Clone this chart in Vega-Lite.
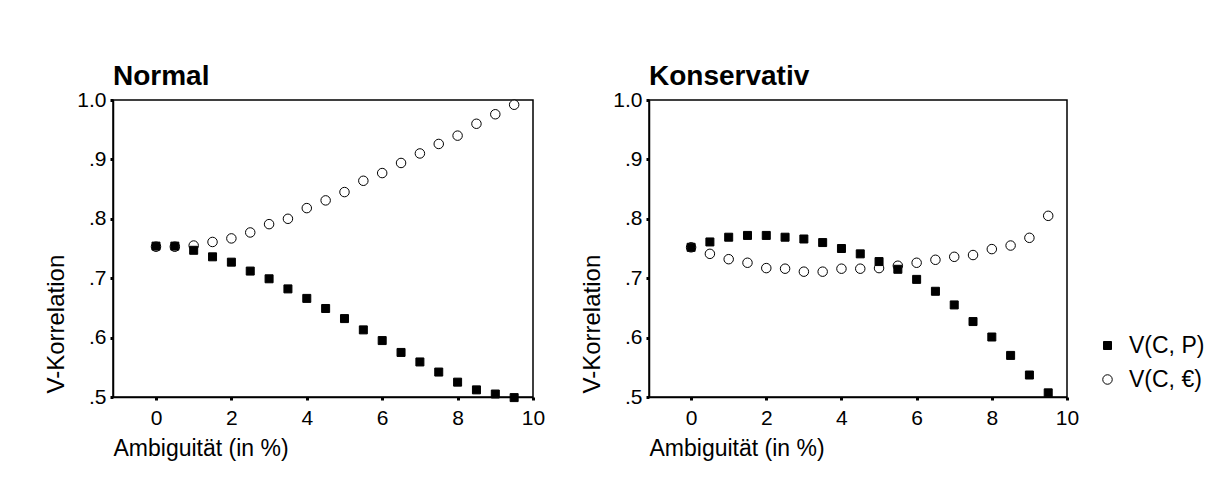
{
  "$schema": "https://vega.github.io/schema/vega-lite/v6.json",
  "background": "white",
  "padding": {"left": 43, "top": 62, "right": 5, "bottom": 5},
  "bounds": "flush",
  "spacing": 116,
  "data": {
    "values": [
      {"p": "Normal", "a": 0, "s": "V(C, €)", "v": 0.753},
      {"p": "Normal", "a": 0.5, "s": "V(C, €)", "v": 0.753},
      {"p": "Normal", "a": 1, "s": "V(C, €)", "v": 0.755},
      {"p": "Normal", "a": 1.5, "s": "V(C, €)", "v": 0.761},
      {"p": "Normal", "a": 2, "s": "V(C, €)", "v": 0.767},
      {"p": "Normal", "a": 2.5, "s": "V(C, €)", "v": 0.777},
      {"p": "Normal", "a": 3, "s": "V(C, €)", "v": 0.791},
      {"p": "Normal", "a": 3.5, "s": "V(C, €)", "v": 0.8},
      {"p": "Normal", "a": 4, "s": "V(C, €)", "v": 0.818},
      {"p": "Normal", "a": 4.5, "s": "V(C, €)", "v": 0.831},
      {"p": "Normal", "a": 5, "s": "V(C, €)", "v": 0.845},
      {"p": "Normal", "a": 5.5, "s": "V(C, €)", "v": 0.864},
      {"p": "Normal", "a": 6, "s": "V(C, €)", "v": 0.877},
      {"p": "Normal", "a": 6.5, "s": "V(C, €)", "v": 0.894},
      {"p": "Normal", "a": 7, "s": "V(C, €)", "v": 0.91},
      {"p": "Normal", "a": 7.5, "s": "V(C, €)", "v": 0.926},
      {"p": "Normal", "a": 8, "s": "V(C, €)", "v": 0.94},
      {"p": "Normal", "a": 8.5, "s": "V(C, €)", "v": 0.96},
      {"p": "Normal", "a": 9, "s": "V(C, €)", "v": 0.976},
      {"p": "Normal", "a": 9.5, "s": "V(C, €)", "v": 0.992},
      {"p": "Normal", "a": 0, "s": "V(C, P)", "v": 0.754},
      {"p": "Normal", "a": 0.5, "s": "V(C, P)", "v": 0.754},
      {"p": "Normal", "a": 1, "s": "V(C, P)", "v": 0.747},
      {"p": "Normal", "a": 1.5, "s": "V(C, P)", "v": 0.736},
      {"p": "Normal", "a": 2, "s": "V(C, P)", "v": 0.727},
      {"p": "Normal", "a": 2.5, "s": "V(C, P)", "v": 0.712},
      {"p": "Normal", "a": 3, "s": "V(C, P)", "v": 0.699},
      {"p": "Normal", "a": 3.5, "s": "V(C, P)", "v": 0.682},
      {"p": "Normal", "a": 4, "s": "V(C, P)", "v": 0.666},
      {"p": "Normal", "a": 4.5, "s": "V(C, P)", "v": 0.649},
      {"p": "Normal", "a": 5, "s": "V(C, P)", "v": 0.632},
      {"p": "Normal", "a": 5.5, "s": "V(C, P)", "v": 0.613},
      {"p": "Normal", "a": 6, "s": "V(C, P)", "v": 0.595},
      {"p": "Normal", "a": 6.5, "s": "V(C, P)", "v": 0.575},
      {"p": "Normal", "a": 7, "s": "V(C, P)", "v": 0.559},
      {"p": "Normal", "a": 7.5, "s": "V(C, P)", "v": 0.542},
      {"p": "Normal", "a": 8, "s": "V(C, P)", "v": 0.525},
      {"p": "Normal", "a": 8.5, "s": "V(C, P)", "v": 0.512},
      {"p": "Normal", "a": 9, "s": "V(C, P)", "v": 0.505},
      {"p": "Normal", "a": 9.5, "s": "V(C, P)", "v": 0.499},
      {"p": "Konservativ", "a": 0, "s": "V(C, €)", "v": 0.752},
      {"p": "Konservativ", "a": 0.5, "s": "V(C, €)", "v": 0.741},
      {"p": "Konservativ", "a": 1, "s": "V(C, €)", "v": 0.732},
      {"p": "Konservativ", "a": 1.5, "s": "V(C, €)", "v": 0.726},
      {"p": "Konservativ", "a": 2, "s": "V(C, €)", "v": 0.717},
      {"p": "Konservativ", "a": 2.5, "s": "V(C, €)", "v": 0.716},
      {"p": "Konservativ", "a": 3, "s": "V(C, €)", "v": 0.711},
      {"p": "Konservativ", "a": 3.5, "s": "V(C, €)", "v": 0.711},
      {"p": "Konservativ", "a": 4, "s": "V(C, €)", "v": 0.716},
      {"p": "Konservativ", "a": 4.5, "s": "V(C, €)", "v": 0.716},
      {"p": "Konservativ", "a": 5, "s": "V(C, €)", "v": 0.717},
      {"p": "Konservativ", "a": 5.5, "s": "V(C, €)", "v": 0.721},
      {"p": "Konservativ", "a": 6, "s": "V(C, €)", "v": 0.726},
      {"p": "Konservativ", "a": 6.5, "s": "V(C, €)", "v": 0.731},
      {"p": "Konservativ", "a": 7, "s": "V(C, €)", "v": 0.736},
      {"p": "Konservativ", "a": 7.5, "s": "V(C, €)", "v": 0.739},
      {"p": "Konservativ", "a": 8, "s": "V(C, €)", "v": 0.749},
      {"p": "Konservativ", "a": 8.5, "s": "V(C, €)", "v": 0.755},
      {"p": "Konservativ", "a": 9, "s": "V(C, €)", "v": 0.768},
      {"p": "Konservativ", "a": 9.5, "s": "V(C, €)", "v": 0.805},
      {"p": "Konservativ", "a": 0, "s": "V(C, P)", "v": 0.752},
      {"p": "Konservativ", "a": 0.5, "s": "V(C, P)", "v": 0.761},
      {"p": "Konservativ", "a": 1, "s": "V(C, P)", "v": 0.769},
      {"p": "Konservativ", "a": 1.5, "s": "V(C, P)", "v": 0.772},
      {"p": "Konservativ", "a": 2, "s": "V(C, P)", "v": 0.772},
      {"p": "Konservativ", "a": 2.5, "s": "V(C, P)", "v": 0.769},
      {"p": "Konservativ", "a": 3, "s": "V(C, P)", "v": 0.766},
      {"p": "Konservativ", "a": 3.5, "s": "V(C, P)", "v": 0.76},
      {"p": "Konservativ", "a": 4, "s": "V(C, P)", "v": 0.75},
      {"p": "Konservativ", "a": 4.5, "s": "V(C, P)", "v": 0.741},
      {"p": "Konservativ", "a": 5, "s": "V(C, P)", "v": 0.728},
      {"p": "Konservativ", "a": 5.5, "s": "V(C, P)", "v": 0.715},
      {"p": "Konservativ", "a": 6, "s": "V(C, P)", "v": 0.698},
      {"p": "Konservativ", "a": 6.5, "s": "V(C, P)", "v": 0.678},
      {"p": "Konservativ", "a": 7, "s": "V(C, P)", "v": 0.655},
      {"p": "Konservativ", "a": 7.5, "s": "V(C, P)", "v": 0.627},
      {"p": "Konservativ", "a": 8, "s": "V(C, P)", "v": 0.601},
      {"p": "Konservativ", "a": 8.5, "s": "V(C, P)", "v": 0.57},
      {"p": "Konservativ", "a": 9, "s": "V(C, P)", "v": 0.537},
      {"p": "Konservativ", "a": 9.5, "s": "V(C, P)", "v": 0.507}
    ]
  },
  "hconcat": [
    {
      "width": 420,
      "height": 297,
      "title": "Normal",
      "transform": [{"filter": "datum.p == 'Normal'"}],
      "mark": {"type": "point", "filled": true, "strokeWidth": 1, "opacity": 1, "clip": false},
      "encoding": {
        "x": {"field": "a", "type": "quantitative", "scale": {"domain": [-1.14, 10], "nice": false, "zero": false}, "axis": {"values": [0, 2, 4, 6, 8, 10], "title": "Ambiguität (in %)"}},
        "y": {"field": "v", "type": "quantitative", "scale": {"domain": [0.5, 1], "nice": false, "zero": false}, "axis": {"values": [0.5, 0.6, 0.7, 0.8, 0.9, 1.0], "labelExpr": "datum.value >= 1 ? '1.0' : '.' + round(datum.value * 10)", "title": "V-Korrelation"}},
        "shape": {"field": "s", "type": "nominal", "scale": {"domain": ["V(C, P)", "V(C, €)"], "range": ["square", "circle"]}, "legend": {"title": null, "orient": "none", "legendX": 983, "legendY": 234}},
        "fill": {"field": "s", "type": "nominal", "scale": {"domain": ["V(C, P)", "V(C, €)"], "range": ["black", "white"]}, "legend": {"title": null, "orient": "none", "legendX": 983, "legendY": 234}},
        "stroke": {"field": "s", "type": "nominal", "scale": {"domain": ["V(C, P)", "V(C, €)"], "range": ["black", "black"]}, "legend": {"title": null, "orient": "none", "legendX": 983, "legendY": 234}},
        "size": {"field": "s", "type": "nominal", "scale": {"domain": ["V(C, P)", "V(C, €)"], "range": [64, 90]}, "legend": {"title": null, "orient": "none", "legendX": 983, "legendY": 234}}
      }
    },
    {
      "width": 418,
      "height": 297,
      "title": "Konservativ",
      "transform": [{"filter": "datum.p == 'Konservativ'"}],
      "mark": {"type": "point", "filled": true, "strokeWidth": 1, "opacity": 1, "clip": false},
      "encoding": {
        "x": {"field": "a", "type": "quantitative", "scale": {"domain": [-1.12, 10], "nice": false, "zero": false}, "axis": {"values": [0, 2, 4, 6, 8, 10], "title": "Ambiguität (in %)"}},
        "y": {"field": "v", "type": "quantitative", "scale": {"domain": [0.5, 1], "nice": false, "zero": false}, "axis": {"values": [0.5, 0.6, 0.7, 0.8, 0.9, 1.0], "labelExpr": "datum.value >= 1 ? '1.0' : '.' + round(datum.value * 10)", "title": "V-Korrelation"}},
        "shape": {"field": "s", "type": "nominal", "scale": {"domain": ["V(C, P)", "V(C, €)"], "range": ["square", "circle"]}, "legend": {"title": null, "orient": "none", "legendX": 983, "legendY": 234}},
        "fill": {"field": "s", "type": "nominal", "scale": {"domain": ["V(C, P)", "V(C, €)"], "range": ["black", "white"]}, "legend": {"title": null, "orient": "none", "legendX": 983, "legendY": 234}},
        "stroke": {"field": "s", "type": "nominal", "scale": {"domain": ["V(C, P)", "V(C, €)"], "range": ["black", "black"]}, "legend": {"title": null, "orient": "none", "legendX": 983, "legendY": 234}},
        "size": {"field": "s", "type": "nominal", "scale": {"domain": ["V(C, P)", "V(C, €)"], "range": [64, 90]}, "legend": {"title": null, "orient": "none", "legendX": 983, "legendY": 234}}
      }
    }
  ],
  "resolve": {"scale": {"x": "independent", "y": "independent"}},
  "config": {
    "font": "Liberation Sans",
    "view": {"stroke": "black", "strokeWidth": 1.5},
    "axis": {
      "grid": false,
      "domainColor": "black",
      "domainWidth": 1.5,
      "tickColor": "black",
      "tickSize": 3,
      "tickWidth": 3,
      "labelColor": "black",
      "labelFontSize": 21,
      "labelFlush": false,
      "labelOverlap": false,
      "titleColor": "black",
      "titleFontSize": 23,
      "titleFontWeight": "normal"
    },
    "axisX": {"labelPadding": 7, "titleAnchor": "start", "titleAlign": "left", "titleX": 0, "titleY": 58, "titleBaseline": "alphabetic"},
    "axisY": {"labelPadding": 4, "titleAnchor": "start", "titleAlign": "left", "titleAngle": -90, "titleX": -50, "titleY": 293, "titleFontSize": 24, "titleBaseline": "alphabetic"},
    "title": {"anchor": "start", "frame": "group", "fontSize": 28, "fontWeight": "bold", "color": "black", "offset": -2},
    "legend": {"labelFontSize": 23, "labelColor": "black", "symbolStrokeWidth": 1, "rowPadding": 10, "labelOffset": 10, "padding": 0}
  }
}
